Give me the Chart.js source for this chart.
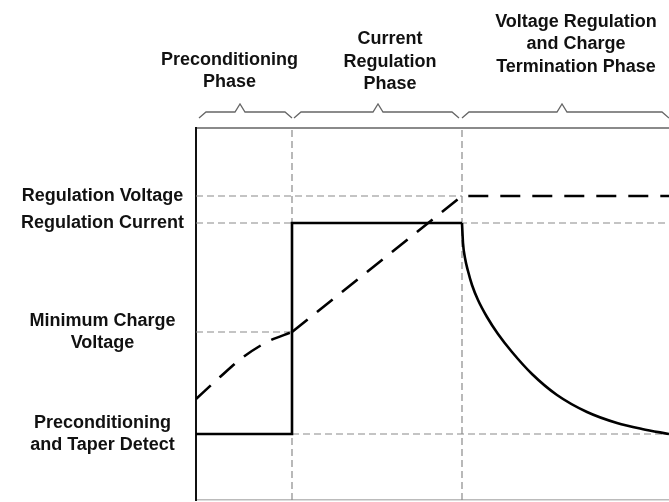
<!DOCTYPE html>
<html>
<head>
<meta charset="utf-8">
<script src="https://cdn.jsdelivr.net/npm/chart.js@4/dist/chart.umd.min.js"></script>
<style>
  html, body { margin: 0; padding: 0; background: #fff; }
  #wrap { width: 669px; height: 502px; }
</style>
</head>
<body>
<div id="wrap"><canvas id="myChart"></canvas></div>
<script>
// level names on the left (y axis ticks)
const levelValues = [66, 168, 277, 304];
const levelLabels = [
  ['Preconditioning', 'and Taper Detect'],
  ['Minimum Charge', 'Voltage'],
  'Regulation Current',
  'Regulation Voltage'
];

// phase boundaries on the time axis
const timeMax = 473;
const phaseBounds = [96, 266];
const phaseNames = [
  ['Preconditioning', 'Phase'],
  ['Current', 'Regulation', 'Phase'],
  ['Voltage Regulation', 'and Charge', 'Termination Phase']
];

// charge current (solid)
const currentStepX = [0, 96, 96, 266];
const currentStepY = [66, 66, 277, 277];
const currentTaperX = [266, 267, 269, 272, 276, 282, 291, 302, 316, 336, 361, 391, 421, 446, 473];
const currentTaperY = [277, 257, 242, 229, 215, 200, 183, 166, 148, 126, 105, 88, 77, 71, 66];

// battery voltage (dashed)
const voltagePreX = [0, 24, 46, 71, 96];
const voltagePreY = [101, 123, 142, 158, 168];
const voltageRampX = [96, 266, 473];
const voltageRampY = [168, 304, 304];

const pts = (xs, ys) => xs.map((x, i) => ({ x: x, y: ys[i] }));

// grey dashed guide lines (drawn under the curves)
const guide = { borderColor: '#8a8a8a', borderWidth: 1.2, borderDash: [7, 4], pointRadius: 0, tension: 0, fill: false, order: 2 };
const guides = [
  pts([0, phaseBounds[1]], [levelValues[3], levelValues[3]]),
  pts([0, timeMax], [levelValues[2], levelValues[2]]),
  pts([0, phaseBounds[0]], [levelValues[1], levelValues[1]]),
  pts([phaseBounds[0], timeMax], [levelValues[0], levelValues[0]]),
  pts([phaseBounds[0], phaseBounds[0]], [0, 372]),
  pts([phaseBounds[1], phaseBounds[1]], [0, 372])
].map(d => Object.assign({ data: d }, guide));

const solid = { borderColor: '#000', borderWidth: 2.6, pointRadius: 0, fill: false, order: 1 };
const dashed = { borderColor: '#000', borderWidth: 2.6, borderDash: [20, 12], pointRadius: 0, fill: false, order: 1 };

// braces + phase titles above the plot
const phaseHeader = {
  id: 'phaseHeader',
  afterDraw(chart, args, opts) {
    const ctx = chart.ctx;
    const xs = chart.scales.x;
    ctx.save();
    ctx.strokeStyle = '#666';
    ctx.lineWidth = 1.3;
    opts.braces.forEach(b => {
      const x0 = xs.getPixelForValue(b[0]);
      const xt = xs.getPixelForValue(b[1]);
      const x1 = xs.getPixelForValue(b[2]);
      ctx.beginPath();
      ctx.moveTo(x0, 118);
      ctx.lineTo(x0 + 7, 112);
      ctx.lineTo(xt - 5, 112);
      ctx.lineTo(xt, 104);
      ctx.lineTo(xt + 5, 112);
      ctx.lineTo(x1 - 7, 112);
      ctx.lineTo(x1, 118);
      ctx.stroke();
    });
    ctx.fillStyle = '#111';
    ctx.font = 'bold 18px "Liberation Sans", Arial, sans-serif';
    ctx.textAlign = 'center';
    ctx.textBaseline = 'alphabetic';
    phaseNames.forEach((lines, i) => {
      const cx = xs.getPixelForValue(opts.titleX[i]);
      const last = opts.lastBaseline[i];
      lines.forEach((t, j) => {
        ctx.fillText(t, cx, last - (lines.length - 1 - j) * 22.5);
      });
    });
    ctx.restore();
  }
};

const ctx = document.getElementById('myChart');
const myChart = new Chart(ctx, {
  type: 'line',
  data: {
    datasets: [
      Object.assign({ data: pts(voltagePreX, voltagePreY), cubicInterpolationMode: 'monotone' }, dashed),
      Object.assign({ data: pts(voltageRampX, voltageRampY), tension: 0 }, dashed),
      Object.assign({ data: pts(currentStepX, currentStepY), tension: 0 }, solid),
      Object.assign({ data: pts(currentTaperX, currentTaperY), cubicInterpolationMode: 'monotone' }, solid)
    ].concat(guides)
  },
  options: {
    responsive: true,
    maintainAspectRatio: false,
    animation: false,
    layout: { padding: { top: 128, bottom: 2, left: 0, right: 0 } },
    plugins: {
      legend: { display: false },
      tooltip: { enabled: false },
      phaseHeader: {
        braces: [[3, 44, 96], [98, 182, 263], [266, 366, 473]],
        titleX: [33.5, 194, 380],
        lastBaseline: [87, 89, 71.5]
      }
    },
    scales: {
      x: {
        type: 'linear', min: 0, max: timeMax, position: 'bottom',
        grid: { display: false, drawTicks: false },
        border: { display: true, color: '#bbb', width: 1.5 },
        ticks: { display: false },
        afterFit: s => { s.height = 0; s.paddingLeft = 0; s.paddingRight = 0; }
      },
      x2: {
        type: 'linear', min: 0, max: timeMax, position: 'top',
        grid: { display: false, drawTicks: false },
        border: { display: true, color: '#8a8a8a', width: 2 },
        ticks: { display: false },
        afterFit: s => { s.height = 0; s.paddingLeft = 0; s.paddingRight = 0; }
      },
      y: {
        type: 'linear', min: 0, max: 372,
        grid: { display: false, drawTicks: false },
        border: { display: true, color: '#111', width: 2 },
        afterBuildTicks: s => { s.ticks = levelValues.map(v => ({ value: v })); },
        afterFit: s => { s.width = 196; s.paddingTop = 0; s.paddingBottom = 0; },
        ticks: {
          autoSkip: false,
          crossAlign: 'center',
          padding: 12,
          color: '#111',
          font: { family: '"Liberation Sans", Arial, sans-serif', size: 18, weight: 'bold', lineHeight: 1.2 },
          callback: (value, index) => levelLabels[index]
        }
      }
    }
  },
  plugins: [phaseHeader]
});
</script>
</body>
</html>
